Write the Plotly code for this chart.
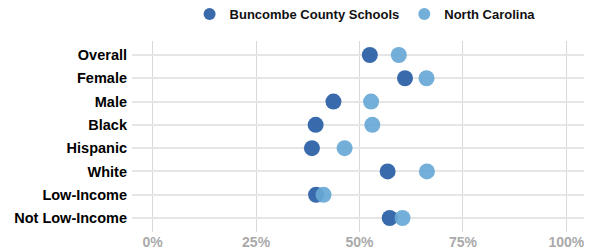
import plotly.graph_objects as go

categories = ["Overall", "Female", "Male", "Black", "Hispanic", "White", "Low-Income", "Not Low-Income"]
buncombe = [52.5, 61.0, 43.7, 39.4, 38.5, 56.8, 39.5, 57.3]
north_carolina = [59.5, 66.2, 52.8, 53.1, 46.4, 66.3, 41.3, 60.4]
series_names = ["Buncombe County Schools", "North Carolina"]
tick_vals = [0, 25, 50, 75, 100]
tick_text = ["0%", "25%", "50%", "75%", "100%"]

FONT = "Liberation Sans, Arial, sans-serif"

fig = go.Figure()
fig.add_trace(go.Scatter(x=buncombe, y=categories, mode="markers", name=series_names[0],
                         marker=dict(size=16, color="#2e63a8", opacity=0.95, line=dict(width=0))))
fig.add_trace(go.Scatter(x=north_carolina, y=categories, mode="markers", name=series_names[1],
                         marker=dict(size=16, color="#67a8d5", opacity=0.92, line=dict(width=0))))

# page body has an 8px default margin, so the figure is sized to fit the 592x252 window
fig.update_layout(
    width=584, height=244,
    margin=dict(l=124, r=5, t=33, b=20, autoexpand=False),
    paper_bgcolor="white", plot_bgcolor="white",
    font=dict(family=FONT, size=14, color="black"),
    showlegend=True,
    legend=dict(orientation="h", x=0.1265, xanchor="left", y=1.141, yanchor="middle",
                font=dict(size=13, color="#111111", family=FONT, weight="bold"),
                itemsizing="constant", traceorder="normal", bgcolor="rgba(0,0,0,0)"),
    xaxis=dict(range=[-5, 105], tickvals=tick_vals, ticktext=tick_text,
               showgrid=True, gridcolor="#d9d9d9", gridwidth=1, zeroline=False,
               showline=False, ticks="", automargin=False,
               tickfont=dict(size=14, color="#aaaaaa", family=FONT, weight="bold"),
               fixedrange=True),
    yaxis=dict(categoryorder="array", categoryarray=categories, autorange=False,
               range=[7.6, -0.6], showgrid=True, gridcolor="#e6e6e6", gridwidth=1.5,
               zeroline=False, showline=False, ticks="", ticklabelstandoff=4, automargin=False,
               tickfont=dict(size=14.5, color="black", family=FONT, weight="bold")),
)

fig.write_html("out.html")
